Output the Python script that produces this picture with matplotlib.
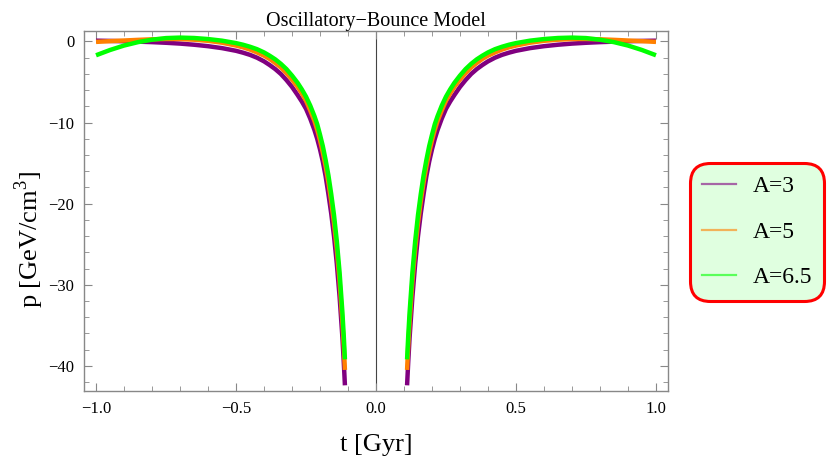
import numpy as np
import matplotlib
matplotlib.use("Agg")
import matplotlib.pyplot as plt
from matplotlib.ticker import MultipleLocator

plt.rcParams['font.family'] = ['Liberation Serif', 'DejaVu Serif']
plt.rcParams['mathtext.fontset'] = 'custom'
plt.rcParams['mathtext.rm'] = 'Liberation Serif'

# values for t > 0 (the curves are symmetric in t)
t_half = [0.111, 0.115, 0.12, 0.13, 0.14, 0.15, 0.16, 0.17, 0.18, 0.19, 0.20, 0.21,
          0.22, 0.235, 0.25, 0.265, 0.28, 0.30, 0.32, 0.34, 0.36, 0.38, 0.40, 0.425,
          0.45, 0.475, 0.50, 0.55, 0.60, 0.65, 0.70, 0.75, 0.80, 0.85, 0.90, 0.95, 1.00]
p_A3 = [-42.4, -39.6, -36.5, -31.5, -27.4, -24.0, -21.2, -18.8, -16.6, -14.8, -13.3, -12.0,
        -10.9, -9.5, -8.3, -7.4, -6.6, -5.6, -4.75, -4.0, -3.4, -2.9, -2.45, -2.0,
        -1.65, -1.38, -1.15, -0.82, -0.58, -0.4, -0.26, -0.16, -0.08, -0.02, 0.03, 0.07, 0.10]
p_A5 = [-40.5, -37.6, -34.6, -29.6, -25.6, -22.4, -19.7, -17.4, -15.4, -13.7, -12.2, -10.9,
        -9.8, -8.5, -7.3, -6.4, -5.6, -4.7, -3.9, -3.2, -2.65, -2.15, -1.75, -1.35,
        -1.0, -0.72, -0.5, -0.15, 0.08, 0.22, 0.30, 0.31, 0.27, 0.20, 0.12, 0.04, -0.05]
p_A65 = [-39.2, -36.4, -33.4, -28.5, -24.6, -21.4, -18.8, -16.5, -14.6, -12.9, -11.5, -10.2,
         -9.2, -7.9, -6.8, -5.9, -5.1, -4.2, -3.4, -2.75, -2.2, -1.75, -1.35, -0.95,
         -0.65, -0.4, -0.2, 0.1, 0.3, 0.43, 0.48, 0.42, 0.22, -0.08, -0.5, -1.05, -1.7]

labels = ["A=3", "A=5", "A=6.5"]
colors = ["#800080", "#ff8000", "#00ff00"]
series = [p_A3, p_A5, p_A65]

fig = plt.figure(figsize=(8.3, 4.67), dpi=100)
ax = fig.add_axes([84/830, 1-391/467, (668-84)/830, (391-30.7)/467])

t = np.array(t_half)
for p, c in zip(series, colors):
    p = np.array(p)
    ax.plot(-t, p, color=c, lw=3.2, solid_capstyle='butt')
    ax.plot(t, p, color=c, lw=3.2, solid_capstyle='butt')

ax.axvline(0, color='#444444', lw=0.8, zorder=0)

ax.set_xlim(-1.043, 1.043)
ax.set_ylim(-43.1, 1.33)
ax.xaxis.set_major_locator(MultipleLocator(0.5))
ax.xaxis.set_minor_locator(MultipleLocator(0.1))
ax.yaxis.set_major_locator(MultipleLocator(10))
ax.yaxis.set_minor_locator(MultipleLocator(2))
ax.xaxis.set_major_formatter(plt.FuncFormatter(lambda v, pos: f"{v:.1f}".replace("-", "\u2212")))
ax.tick_params(which='both', direction='in', top=True, right=True, color='#888888',
               labelsize=12)
ax.tick_params(which='major', length=6, width=0.8, pad=7)
ax.tick_params(which='minor', length=3.5, width=0.6)
for s in ax.spines.values():
    s.set_color('#888888')
    s.set_linewidth(1.0)

ax.set_title("Oscillatory\u2212Bounce Model", fontsize=14.5, pad=0.5)
ax.set_xlabel("t [Gyr]", fontsize=19, va='center')
ax.xaxis.set_label_coords(0.5, (391-445)/360.3)
ax.set_ylabel("p [GeV/cm$^3$]", fontsize=19, va='center')
ax.yaxis.set_label_coords((29-84)/584, (391-240)/360.3)

handles = [plt.Line2D([], [], color=c, lw=1.6, alpha=0.6) for c in colors]
leg = fig.legend(handles, labels, loc='center', bbox_to_anchor=(757/830, 1-232/467),
                 fontsize=17, frameon=True, fancybox=True, handlelength=1.45,
                 handletextpad=0.7, labelspacing=1.02, borderpad=0.52, borderaxespad=0)
fr = leg.get_frame()
fr.set_facecolor('#e0ffe0')
fr.set_edgecolor('red')
fr.set_linewidth(2.2)
fr.set_alpha(1)
fr.set_boxstyle('round', pad=0.0, rounding_size=0.85)

fig.savefig("out.png", dpi=100)
